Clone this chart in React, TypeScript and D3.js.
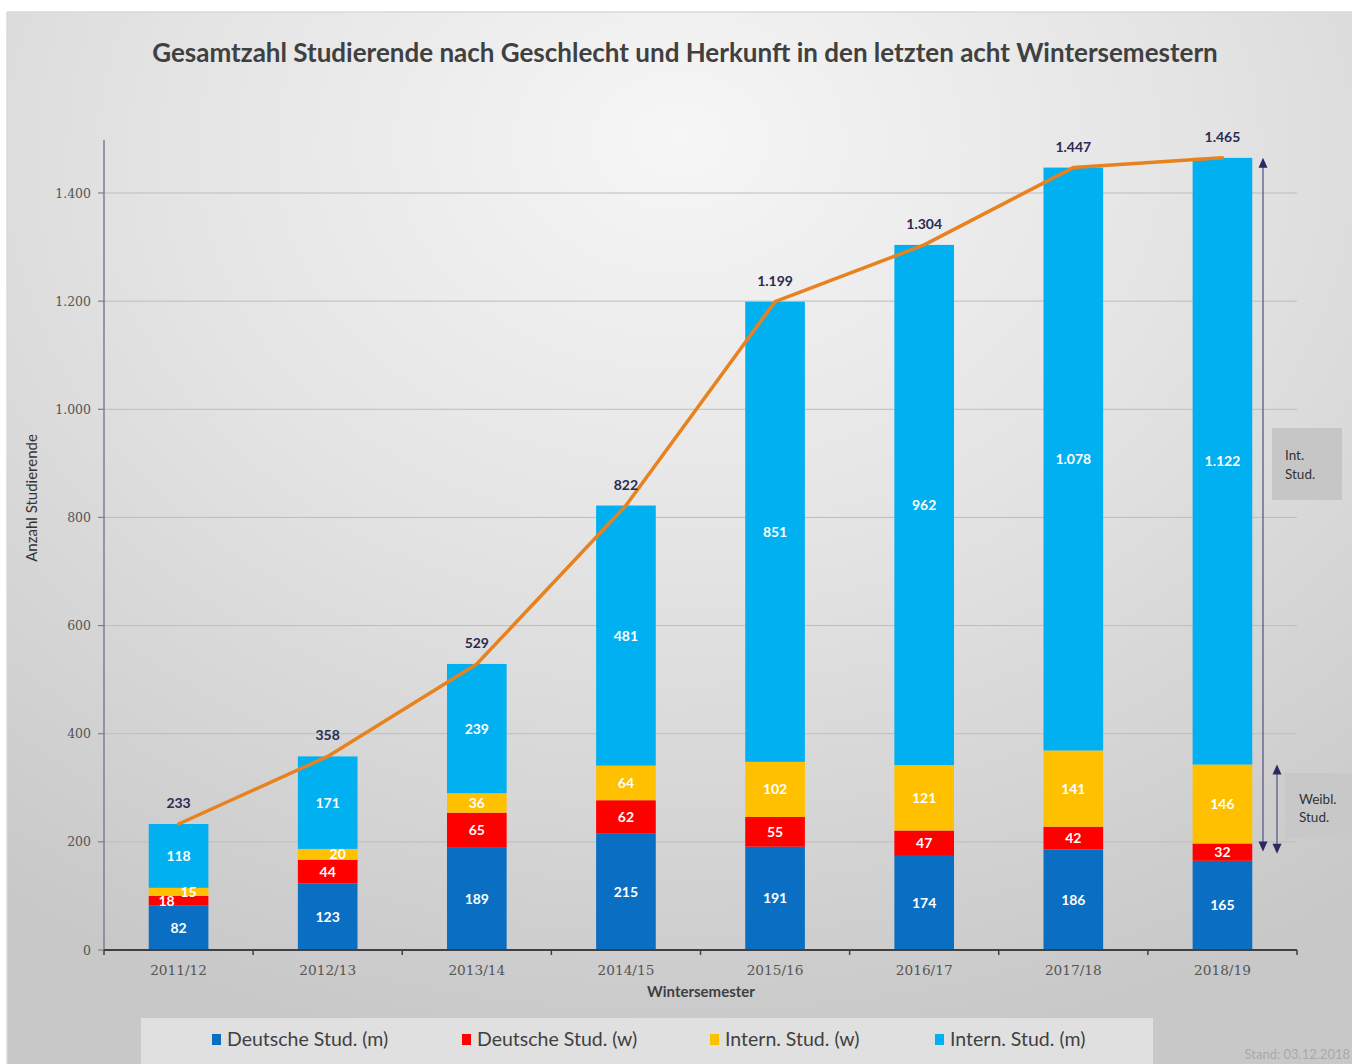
import React from "react";
import * as d3 from "d3";

const semesters = ["2011/12", "2012/13", "2013/14", "2014/15", "2015/16", "2016/17", "2017/18", "2018/19"];
const deutscheM = [82, 123, 189, 215, 191, 174, 186, 165];
const deutscheW = [18, 44, 65, 62, 55, 47, 42, 32];
const internW = [15, 20, 36, 64, 102, 121, 141, 146];
const internM = [118, 171, 239, 481, 851, 962, 1078, 1122];
const totals = [233, 358, 529, 822, 1199, 1304, 1447, 1465];
const totalLabels = ["233", "358", "529", "822", "1.199", "1.304", "1.447", "1.465"];
const yTicks = [0, 200, 400, 600, 800, 1000, 1200, 1400];
const seriesNames = ["Deutsche Stud. (m)", "Deutsche Stud. (w)", "Intern. Stud. (w)", "Intern. Stud. (m)"];
const seriesColors = ["#0a6fc2", "#fe0000", "#ffc000", "#00b0f0"];

const fmt = (v: number) => v.toLocaleString("de-DE");

export default function App() {
  const W = 1352, H = 1064;
  const left = 104, right = 1297, top = 140, bottom = 950;
  const x = d3.scaleBand().domain(semesters).range([left, right]).paddingInner(0.6).paddingOuter(0.3);
  const xb = d3.scaleBand().domain(semesters).range([left, right]);
  const y = d3.scaleLinear().domain([0, 1400]).range([bottom, bottom - 757]);
  const seriesData = [deutscheM, deutscheW, internW, internM];
  const stackInput = semesters.map((s, i) => ({ s, a: deutscheM[i], b: deutscheW[i], c: internW[i], d: internM[i] }));
  const stacked = d3.stack<any>().keys(["a", "b", "c", "d"])(stackInput);
  const cxOf = (i: number) => (xb(semesters[i]) as number) + xb.bandwidth() / 2;
  const line = d3.line<number>().x((_, i) => cxOf(i)).y((d) => y(d));
  const sans = "Lato, 'Open Sans', sans-serif";
  const serif = "'DejaVu Serif', serif";
  const last = semesters.length - 1;
  const a1x = 1263, a2x = 1277;
  const a1top = y(totals[last]), a1bot = y(deutscheM[last] + deutscheW[last]) + 8;
  const a2top = y(deutscheM[last] + deutscheW[last] + internW[last]), a2bot = y(deutscheM[last]) - 7;
  const arrowCol = "#2b2a5e";
  const tri = (cx: number, cy: number, dir: number) =>
    `M${cx},${cy} L${cx - 4.5},${cy - dir * 10} L${cx + 4.5},${cy - dir * 10} Z`;

  const legendX = [212, 462, 710, 935];

  return (
    <div style={{ position: "absolute", left: 0, top: 0 }}>
      <svg width={W} height={H} style={{ display: "block" }}>
        <defs>
          <radialGradient id="bg" cx="50%" cy="15%" r="85%" fx="50%" fy="12%">
            <stop offset="0%" stopColor="#f6f6f6" />
            <stop offset="45%" stopColor="#e4e4e4" />
            <stop offset="100%" stopColor="#c8c8c8" />
          </radialGradient>
        </defs>
        <rect x={0} y={0} width={W} height={H} fill="#ffffff" />
        <rect x={7} y={12} width={W - 7} height={H - 12} fill="url(#bg)" />
        <line x1={7} y1={12} x2={W} y2={12} stroke="#d8d8d8" strokeWidth={1.5} />
        <line x1={7} y1={12} x2={7} y2={H} stroke="#d8d8d8" strokeWidth={1.5} />

        <text x={685} y={62} textAnchor="middle" fontFamily={sans} fontWeight={700} fontSize={26} fill="#404040">
          Gesamtzahl Studierende nach Geschlecht und Herkunft in den letzten acht Wintersemestern
        </text>

        {/* gridlines */}
        {yTicks.filter((t) => t > 0).map((t) => (
          <line key={t} x1={left} x2={right} y1={y(t)} y2={y(t)} stroke="#bdbdbd" strokeWidth={1} />
        ))}
        {/* y axis */}
        <line x1={left} x2={left} y1={top} y2={bottom} stroke="#7d7d92" strokeWidth={1.5} />
        {yTicks.map((t) => (
          <g key={t}>
            <line x1={left - 6} x2={left} y1={y(t)} y2={y(t)} stroke="#7d7d92" strokeWidth={1.2} />
            <text x={left - 13} y={y(t) + 4.5} textAnchor="end" fontFamily={serif} fontSize={12.5} fill="#555">
              {fmt(t)}
            </text>
          </g>
        ))}
        <text transform={`translate(37,498) rotate(-90)`} textAnchor="middle" fontFamily={sans} fontSize={15} fill="#333">
          Anzahl Studierende
        </text>

        {/* bars */}
        {stacked.map((layer, li) => (
          <g key={li}>
            {layer.map((d, i) => (
              <rect key={i} x={x(semesters[i])} width={x.bandwidth()} y={y(d[1])} height={y(d[0]) - y(d[1])} fill={seriesColors[li]} />
            ))}
          </g>
        ))}
        {/* segment labels */}
        {stacked.map((layer, li) => (
          <g key={"l" + li}>
            {layer.map((d, i) => {
              const h = y(d[0]) - y(d[1]);
              const cx = (x(semesters[i]) as number) + x.bandwidth() / 2;
              let dx = 0;
              if (h < 12) dx = li === 1 ? -12 : 10;
              return (
                <text key={i} x={cx + dx} y={(y(d[0]) + y(d[1])) / 2 + 5} textAnchor="middle" fontFamily={sans} fontWeight={700} fontSize={14} fill="#ffffff">
                  {fmt(seriesData[li][i])}
                </text>
              );
            })}
          </g>
        ))}

        {/* x axis */}
        <line x1={left} x2={right} y1={bottom} y2={bottom} stroke="#404040" strokeWidth={2} />
        {semesters.map((s, i) => (
          <g key={s}>
            <line x1={(xb(s) as number) + xb.bandwidth()} x2={(xb(s) as number) + xb.bandwidth()} y1={bottom} y2={bottom + 5} stroke="#404040" strokeWidth={1.5} />
            <text x={cxOf(i)} y={bottom + 25} textAnchor="middle" fontFamily={serif} fontSize={13.7} fill="#555">
              {s}
            </text>
          </g>
        ))}
        <line x1={left} x2={left} y1={bottom} y2={bottom + 5} stroke="#404040" strokeWidth={1.5} />
        <text x={701} y={997} textAnchor="middle" fontFamily={sans} fontWeight={700} fontSize={15} fill="#404040">
          Wintersemester
        </text>

        {/* total line */}
        <path d={line(totals) || ""} fill="none" stroke="#e8821e" strokeWidth={3.5} strokeLinejoin="round" strokeLinecap="round" />
        {totals.map((t, i) => (
          <text key={i} x={cxOf(i)} y={y(t) - 16} textAnchor="middle" fontFamily={sans} fontWeight={700} fontSize={14} fill="#2b2a50">
            {totalLabels[i]}
          </text>
        ))}

        {/* annotation boxes */}
        <rect x={1272} y={428} width={70} height={72} fill="#c6c6c6" />
        <text fontFamily={sans} fontSize={13.5} fill="#333">
          <tspan x={1285} y={460}>Int.</tspan>
          <tspan x={1285} y={479}>Stud.</tspan>
        </text>
        <rect x={1285} y={773} width={67} height={66} fill="#c8c8c8" />
        <text fontFamily={sans} fontSize={13.5} fill="#333">
          <tspan x={1299} y={804}>Weibl.</tspan>
          <tspan x={1299} y={822}>Stud.</tspan>
        </text>

        {/* annotation arrows */}
        <line x1={a1x} x2={a1x} y1={a1top + 6} y2={a1bot - 6} stroke="#5a5a88" strokeWidth={1.3} />
        <path d={tri(a1x, a1top, -1)} fill={arrowCol} />
        <path d={tri(a1x, a1bot, 1)} fill={arrowCol} />
        <line x1={a2x} x2={a2x} y1={a2top + 6} y2={a2bot - 6} stroke="#5a5a88" strokeWidth={1.3} />
        <path d={tri(a2x, a2top, -1)} fill={arrowCol} />
        <path d={tri(a2x, a2bot, 1)} fill={arrowCol} />

        {/* legend */}
        <rect x={141} y={1018} width={1012} height={46} fill="#e0e0e0" />
        {seriesNames.map((n, i) => (
          <g key={n}>
            <rect x={legendX[i]} y={1034} width={9} height={11} fill={seriesColors[i]} />
            <text x={legendX[i] + 15} y={1046} fontFamily={sans} fontSize={19.5} fill="#404040">
              {n}
            </text>
          </g>
        ))}
        <text x={1350} y={1059} textAnchor="end" fontFamily={sans} fontSize={13} fill="#a8a8a8">
          Stand: 03.12.2018
        </text>
      </svg>
    </div>
  );
}
